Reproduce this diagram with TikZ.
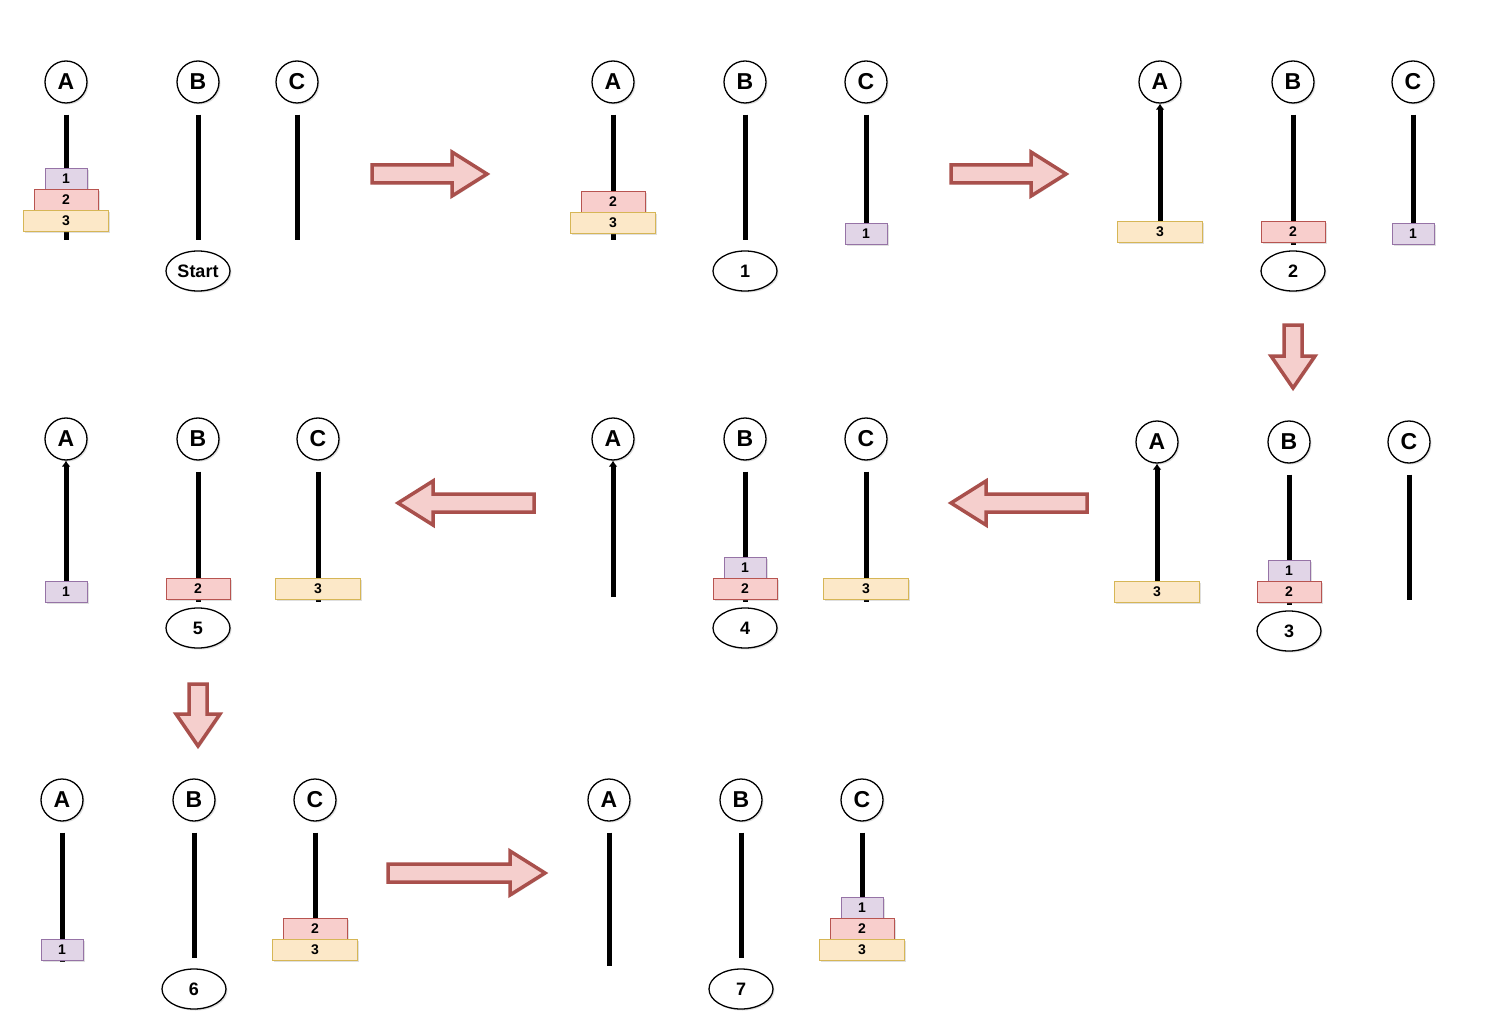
\documentclass[tikz,border=0pt]{standalone}
\usepackage{fontspec}
\setmainfont{Liberation Sans}
\usetikzlibrary{shapes.geometric,arrows.meta,shadows}
\definecolor{d1f}{HTML}{E1D5E7}\definecolor{d1s}{HTML}{9673A6}
\definecolor{d2f}{HTML}{F8CECC}\definecolor{d2s}{HTML}{B85450}
\definecolor{d3f}{HTML}{FCE8C8}\definecolor{d3s}{HTML}{D6B656}
\definecolor{arf}{HTML}{F5CFCD}\definecolor{ars}{HTML}{A9504C}
\tikzset{
  shd/.style={drop shadow={shadow xshift=1.5pt,shadow yshift=-1.5pt,opacity=0.25,fill=black!50}},
  peg/.style={circle,draw,line width=1.3pt,minimum size=42pt,inner sep=0pt,fill=white,shd,
              font=\bfseries\fontsize{23}{23}\selectfont},
  lbl/.style={ellipse,draw,line width=1.3pt,minimum width=64pt,minimum height=40pt,inner sep=0pt,fill=white,shd,
              font=\bfseries\fontsize{18}{18}\selectfont},
  pole/.style={line width=5pt,shorten <=11pt},
  apole/.style={line width=5pt,-{Latex[length=6pt,width=9pt]}},
  disk/.style={rectangle,line width=1pt,inner sep=0pt,minimum height=20.5pt,shd,
               font=\bfseries\fontsize{14}{14}\selectfont},
  dA/.style={disk,draw=d1s,fill=d1f,minimum width=42pt},
  dB/.style={disk,draw=d2s,fill=d2f,minimum width=64pt},
  dC/.style={disk,draw=d3s,fill=d3f,minimum width=85pt},
  barrow/.style={draw=ars,fill=arf,line width=3.5pt,line join=miter,shd}
}
\newcommand{\blockR}[3]{\draw[barrow] (#1,{#3-9}) -- ({#2-35},{#3-9}) -- ({#2-35},{#3-22}) -- (#2,#3) -- ({#2-35},{#3+22}) -- ({#2-35},{#3+9}) -- (#1,{#3+9}) -- cycle;}
\newcommand{\blockL}[3]{\draw[barrow] (#1,{#3-9}) -- ({#2+35},{#3-9}) -- ({#2+35},{#3-22}) -- (#2,#3) -- ({#2+35},{#3+22}) -- ({#2+35},{#3+9}) -- (#1,{#3+9}) -- cycle;}
\newcommand{\blockD}[3]{\draw[barrow] ({#1-9},#2) -- ({#1-9},{#3-32}) -- ({#1-22},{#3-32}) -- (#1,#3) -- ({#1+22},{#3-32}) -- ({#1+9},{#3-32}) -- ({#1+9},#2) -- cycle;}
\begin{document}
\begin{tikzpicture}[x=1pt,y=-1pt]
\useasboundingbox[fill=white] (0,0) rectangle (1488,1024);

% ---------------- Panel 1 (Start)
\node[peg] (p1A) at (66,82) {A};
\node[peg] (p1B) at (198,82) {B};
\node[peg] (p1C) at (297,82) {C};
\coordinate (p1Ab) at (66,240);
\coordinate (p1Bb) at (198,240);
\coordinate (p1Cb) at (297,240);
\draw[pole] (p1A) -- (p1Ab);
\draw[pole] (p1B) -- (p1Bb);
\draw[pole] (p1C) -- (p1Cb);
\node[dA] (p1d1) at (66,179) {1};
\node[dB] (p1d2) at (66,200) {2};
\node[dC] (p1d3) at (66,221) {3};
\node[lbl] (p1L) at (198,271) {Start};

\blockR{372}{487}{174}

% ---------------- Panel 2 (1)
\node[peg] (p2A) at (613,82) {A};
\node[peg] (p2B) at (745,82) {B};
\node[peg] (p2C) at (866,82) {C};
\coordinate (p2Ab) at (613,240);
\coordinate (p2Bb) at (745,240);
\coordinate (p2Cb) at (866,226);
\draw[pole] (p2A) -- (p2Ab);
\draw[pole] (p2B) -- (p2Bb);
\draw[pole] (p2C) -- (p2Cb);
\node[dB] (p2d2) at (613,202) {2};
\node[dC] (p2d3) at (613,223) {3};
\node[dA] (p2d1) at (866,234) {1};
\node[lbl] (p2L) at (745,271) {1};

\blockR{951}{1066}{174}

% ---------------- Panel 3 (2)
\node[peg] (p3A) at (1160,82) {A};
\node[peg] (p3B) at (1293,82) {B};
\node[peg] (p3C) at (1413,82) {C};
\coordinate (p3Ab) at (1160,224);
\coordinate (p3Bb) at (1293,245);
\coordinate (p3Cb) at (1413,226);
\draw[apole] (p3Ab) -- (p3A);
\draw[pole] (p3B) -- (p3Bb);
\draw[pole] (p3C) -- (p3Cb);
\node[dC] (p3d3) at (1160,232) {3};
\node[dB] (p3d2) at (1293,232) {2};
\node[dA] (p3d1) at (1413,234) {1};
\node[lbl] (p3L) at (1293,271) {2};

\blockD{1293}{325}{388}

% ---------------- Panel 4 (3)
\node[peg] (p4A) at (1157,442) {A};
\node[peg] (p4B) at (1289,442) {B};
\node[peg] (p4C) at (1409,442) {C};
\coordinate (p4Ab) at (1157,584);
\coordinate (p4Bb) at (1289,605);
\coordinate (p4Cb) at (1409,600);
\draw[apole] (p4Ab) -- (p4A);
\draw[pole] (p4B) -- (p4Bb);
\draw[pole] (p4C) -- (p4Cb);
\node[dC] (p4d3) at (1157,592) {3};
\node[dA] (p4d1) at (1289,571) {1};
\node[dB] (p4d2) at (1289,592) {2};
\node[lbl] (p4L) at (1289,631) {3};

\blockL{1087}{951}{503}

% ---------------- Panel 5 (4)
\node[peg] (p5A) at (613,439) {A};
\node[peg] (p5B) at (745,439) {B};
\node[peg] (p5C) at (866,439) {C};
\coordinate (p5Ab) at (613,597);
\coordinate (p5Bb) at (745,602);
\coordinate (p5Cb) at (866,602);
\draw[apole] (p5Ab) -- (p5A);
\draw[pole] (p5B) -- (p5Bb);
\draw[pole] (p5C) -- (p5Cb);
\node[dA] (p5d1) at (745,568) {1};
\node[dB] (p5d2) at (745,589) {2};
\node[dC] (p5d3) at (866,589) {3};
\node[lbl] (p5L) at (745,628) {4};

\blockL{534}{398}{503}

% ---------------- Panel 6 (5)
\node[peg] (p6A) at (66,439) {A};
\node[peg] (p6B) at (198,439) {B};
\node[peg] (p6C) at (318,439) {C};
\coordinate (p6Ab) at (66,583);
\coordinate (p6Bb) at (198,602);
\coordinate (p6Cb) at (318,602);
\draw[apole] (p6Ab) -- (p6A);
\draw[pole] (p6B) -- (p6Bb);
\draw[pole] (p6C) -- (p6Cb);
\node[dA] (p6d1) at (66,592) {1};
\node[dB] (p6d2) at (198,589) {2};
\node[dC] (p6d3) at (318,589) {3};
\node[lbl] (p6L) at (198,628) {5};

\blockD{198}{684}{746}

% ---------------- Panel 7 (6)
\node[peg] (p7A) at (62,800) {A};
\node[peg] (p7B) at (194,800) {B};
\node[peg] (p7C) at (315,800) {C};
\coordinate (p7Ab) at (62,962);
\coordinate (p7Bb) at (194,958);
\coordinate (p7Cb) at (315,940);
\draw[pole] (p7A) -- (p7Ab);
\draw[pole] (p7B) -- (p7Bb);
\draw[pole] (p7C) -- (p7Cb);
\node[dA] (p7d1) at (62,950) {1};
\node[dB] (p7d2) at (315,929) {2};
\node[dC] (p7d3) at (315,950) {3};
\node[lbl] (p7L) at (194,989) {6};

\blockR{388}{545}{873}

% ---------------- Panel 8 (7)
\node[peg] (p8A) at (609,800) {A};
\node[peg] (p8B) at (741,800) {B};
\node[peg] (p8C) at (862,800) {C};
\coordinate (p8Ab) at (609,966);
\coordinate (p8Bb) at (741,958);
\coordinate (p8Cb) at (862,900);
\draw[pole] (p8A) -- (p8Ab);
\draw[pole] (p8B) -- (p8Bb);
\draw[pole] (p8C) -- (p8Cb);
\node[dA] (p8d1) at (862,908) {1};
\node[dB] (p8d2) at (862,929) {2};
\node[dC] (p8d3) at (862,950) {3};
\node[lbl] (p8L) at (741,989) {7};
\end{tikzpicture}
\end{document}
